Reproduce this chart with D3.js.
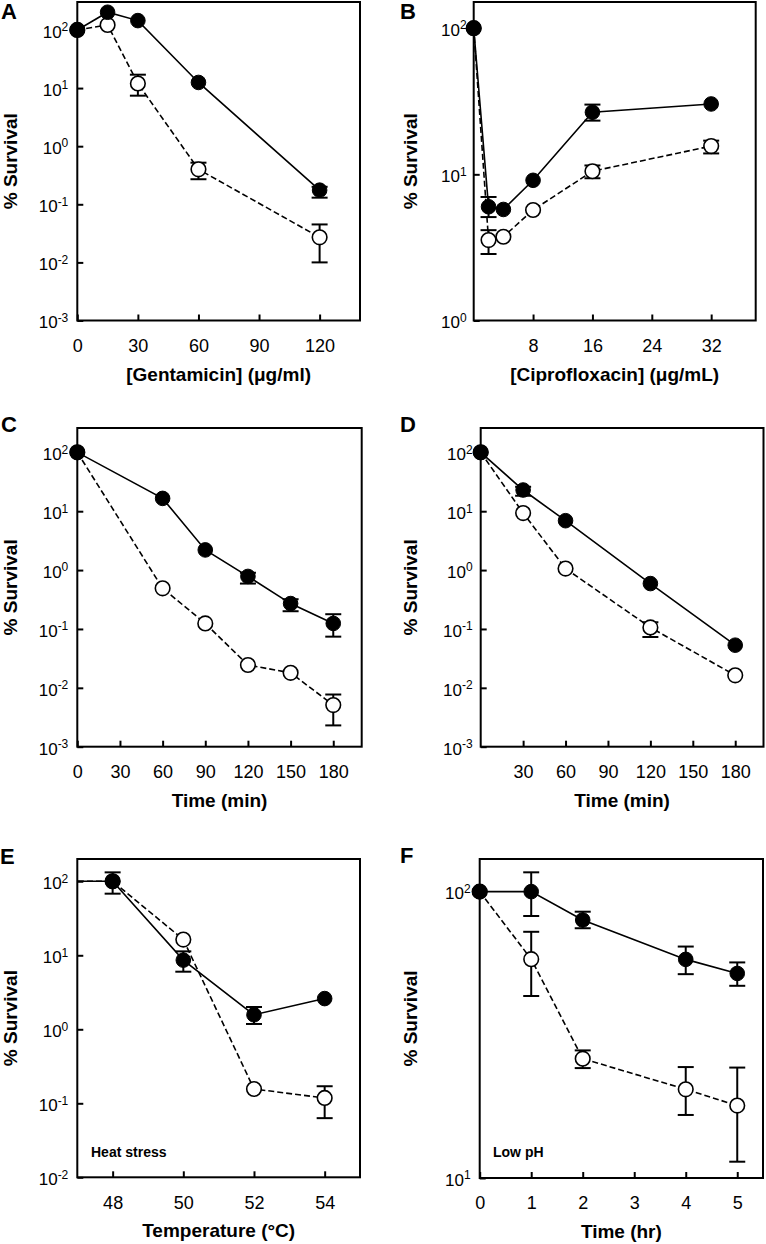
<!DOCTYPE html>
<html><head><meta charset="utf-8">
<script src="https://cdn.jsdelivr.net/npm/d3@7"></script>
<style>
body{margin:0;background:#fff}
svg{display:block}
text{font-family:"Liberation Sans",Arial,Helvetica,sans-serif;fill:#000}
</style>
</head><body><svg id="chart" width="766" height="1244"></svg>
<script>
// ---------- Panel A: gentamicin ----------
const gentX = [0, 15, 30, 60, 120];
const gentFilled = [100, 202, 145, 12.5, 0.175];
const gentFilledLo = [null, null, null, null, 0.13];
const gentFilledHi = [null, null, null, null, 0.2];
const gentOpen = [100, 122, 12, 0.4, 0.027];
const gentOpenLo = [null, null, 7.4, 0.27, 0.01];
const gentOpenHi = [null, null, 17, 0.52, 0.045];
const gentXTicks = [0, 30, 60, 90, 120];
const gentYTicks = [1e-3, 1e-2, 1e-1, 1, 10, 100];

// ---------- Panel B: ciprofloxacin ----------
const ciproX = [0, 2, 4, 8, 16, 32];
const ciproFilled = [100, 6.0, 5.75, 9.1, 26.6, 30.3];
const ciproFilledLo = [null, 5.1, null, null, 23.3, null];
const ciproFilledHi = [null, 7.0, null, null, 30, null];
const ciproOpen = [100, 3.55, 3.74, 5.7, 10.5, 15.6];
const ciproOpenLo = [null, 2.85, null, null, 9.4, 13.9];
const ciproOpenHi = [null, 4.15, null, null, 11.5, 17];
const ciproXTicks = [8, 16, 24, 32];
const ciproYTicks = [1, 10, 100];

// ---------- Panel C: time (min) ----------
const cTimeX = [0, 60, 90, 120, 150, 180];
const cFilled = [100, 16.5, 2.2, 0.78, 0.27, 0.124];
const cFilledLo = [null, null, null, 0.59, 0.2, 0.074];
const cFilledHi = [null, null, null, 0.9, 0.32, 0.178];
const cOpen = [100, 0.49, 0.124, 0.0244, 0.018, 0.0051];
const cOpenLo = [null, null, null, null, null, 0.0023];
const cOpenHi = [null, null, null, null, null, 0.0077];
const cXTicks = [0, 30, 60, 90, 120, 150, 180];
const cYTicks = [1e-3, 1e-2, 1e-1, 1, 10, 100];

// ---------- Panel D: time (min) ----------
const dTimeX = [0, 30, 60, 120, 180];
const dFilled = [100, 22.9, 6.9, 0.59, 0.053];
const dFilledLo = [null, 18.3, null, null, null];
const dFilledHi = [null, 26, null, null, null];
const dOpen = [100, 9.3, 1.06, 0.106, 0.0163];
const dOpenLo = [null, null, null, 0.073, null];
const dOpenHi = [null, null, null, 0.13, null];
const dXTicks = [30, 60, 90, 120, 150, 180];
const dYTicks = [1e-3, 1e-2, 1e-1, 1, 10, 100];

// ---------- Panel E: heat stress ----------
const heatX = [46, 48, 50, 52, 54];
const heatFilled = [100, 100, 8.6, 1.57, 2.6];
const heatFilledLo = [null, 68, 6.0, 1.18, null];
const heatFilledHi = [null, 132, 11.3, 2.0, null];
const heatOpen = [100, 100, 16.3, 0.156, 0.118];
const heatOpenLo = [null, null, null, null, 0.063];
const heatOpenHi = [null, null, null, null, 0.17];
const heatXTicks = [48, 50, 52, 54];
const heatYTicks = [1e-2, 1e-1, 1, 10, 100];

// ---------- Panel F: low pH ----------
const phX = [0, 1, 2, 4, 5];
const phFilled = [100, 100, 79.6, 58, 51.8];
const phFilledLo = [null, 82.2, 74.5, 51.5, 46.9];
const phFilledHi = [null, 116.8, 85.1, 64.3, 56.6];
const phOpen = [100, 58.1, 26.1, 20.4, 17.9];
const phOpenLo = [null, 43.2, 24.2, 16.6, 11.4];
const phOpenHi = [null, 72.4, 27.9, 24.4, 24.3];
const phXTicks = [0, 1, 2, 3, 4, 5];
const phYTicks = [10, 100];

const svg = d3.select("#chart");
svg.append("rect").attr("width", 766).attr("height", 1244).attr("fill", "#fff");

function mk(xs, ys, lo, hi) {
  return xs.map((x, i) => ({x, y: ys[i], lo: lo[i], hi: hi[i]}));
}

const panels = [
  {id: "A", letter: [1, 18.5], box: [77.3, 360, 2, 320.5], xDom: [0, 140], yDom: [1e-3, 303],
   filled: mk(gentX, gentFilled, gentFilledLo, gentFilledHi), open: mk(gentX, gentOpen, gentOpenLo, gentOpenHi),
   xTicks: gentXTicks, yTicks: gentYTicks, yPad: 9, yTitleX: 16.5, xTitle: "[Gentamicin] (\u03bcg/ml)"},
  {id: "B", letter: [400, 18.5], box: [473.7, 755.7, 2, 320.5], xDom: [0, 38], yDom: [1, 151],
   filled: mk(ciproX, ciproFilled, ciproFilledLo, ciproFilledHi), open: mk(ciproX, ciproOpen, ciproOpenLo, ciproOpenHi),
   xTicks: ciproXTicks, yTicks: ciproYTicks, yPad: 7, yTitleX: 417, xTitle: "[Ciprofloxacin] (\u03bcg/mL)"},
  {id: "C", letter: [1, 432], box: [77.3, 361.7, 428, 746.7], xDom: [0, 200], yDom: [1e-3, 259],
   filled: mk(cTimeX, cFilled, cFilledLo, cFilledHi), open: mk(cTimeX, cOpen, cOpenLo, cOpenHi),
   xTicks: cXTicks, yTicks: cYTicks, yPad: 9, yTitleX: 16.5, xTitle: "Time (min)"},
  {id: "D", letter: [400, 432], box: [480.7, 763.5, 428, 746.7], xDom: [0, 200], yDom: [1e-3, 259],
   filled: mk(dTimeX, dFilled, dFilledLo, dFilledHi), open: mk(dTimeX, dOpen, dOpenLo, dOpenHi),
   xTicks: dXTicks, yTicks: dYTicks, yPad: 8, yTitleX: 417, xTitle: "Time (min)"},
  {id: "E", letter: [0, 864], box: [77.3, 360, 859, 1177.3], xDom: [47, 55], yDom: [1e-2, 200],
   filled: mk(heatX, heatFilled, heatFilledLo, heatFilledHi), open: mk(heatX, heatOpen, heatOpenLo, heatOpenHi),
   xTicks: heatXTicks, yTicks: heatYTicks, yPad: 9, yTitleX: 16.5, xTitle: "Temperature (\u00b0C)",
   note: "Heat stress", noteX: 91},
  {id: "F", letter: [400, 863], box: [479.7, 763, 859, 1178], xDom: [0, 5.5], yDom: [10, 130],
   filled: mk(phX, phFilled, phFilledLo, phFilledHi), open: mk(phX, phOpen, phOpenLo, phOpenHi),
   xTicks: phXTicks, yTicks: phYTicks, yPad: 9, yTitleX: 417, xTitle: "Time (hr)",
   note: "Low pH", noteX: 493}
];

panels.forEach(p => {
  const [L, R, T, B] = p.box;
  const x = d3.scaleLinear().domain(p.xDom).range([L, R]);
  const y = d3.scaleLog().domain(p.yDom).range([B, T]);
  const g = svg.append("g");
  const clipId = "clip" + p.id;
  svg.append("clipPath").attr("id", clipId).append("rect")
    .attr("x", L).attr("y", T).attr("width", R - L).attr("height", B - T);

  // x axis ticks + labels
  const xa = g.append("g").attr("transform", `translate(0,${B})`)
    .call(d3.axisBottom(x).tickValues(p.xTicks).tickSize(-6).tickPadding(18.5)
      .tickSizeOuter(0).tickFormat(d => String(d)));
  xa.select(".domain").remove();
  xa.selectAll(".tick line").attr("stroke", "#000").attr("stroke-width", 2);
  xa.selectAll(".tick text").attr("font-size", 18).attr("fill", "#000");

  // y axis ticks + labels with superscripts
  const ya = g.append("g").attr("transform", `translate(${L},0)`)
    .call(d3.axisLeft(y).tickValues(p.yTicks).tickSize(-6).tickPadding(p.yPad).tickSizeOuter(0).tickFormat(() => ""));
  ya.select(".domain").remove();
  ya.selectAll(".tick line").attr("stroke", "#000").attr("stroke-width", 2);
  ya.selectAll(".tick text").attr("font-size", 17).attr("fill", "#000").attr("dy", "0.43em")
    .each(function(d) {
      const t = d3.select(this);
      t.text(null);
      t.append("tspan").text("10");
      t.append("tspan").attr("dy", -6.5).attr("font-size", 12).text(String(Math.round(Math.log10(d))));
    });

  // frame
  g.append("rect").attr("x", L).attr("y", T).attr("width", R - L).attr("height", B - T)
    .attr("fill", "none").attr("stroke", "#000").attr("stroke-width", 2);

  const line = d3.line().x(d => x(d.x)).y(d => y(d.y));
  const inDom = d => d.x >= p.xDom[0] && d.x <= p.xDom[1];

  function drawSeries(data, filled) {
    const sg = g.append("g");
    sg.append("path").datum(data).attr("d", line).attr("fill", "none")
      .attr("stroke", "#000").attr("stroke-width", 1.6)
      .attr("stroke-dasharray", filled ? null : "6,3")
      .attr("clip-path", `url(#${clipId})`);
    const eb = data.filter(d => d.lo != null && inDom(d));
    sg.selectAll("line.v").data(eb).enter().append("line")
      .attr("x1", d => x(d.x)).attr("x2", d => x(d.x))
      .attr("y1", d => y(d.lo)).attr("y2", d => y(d.hi))
      .attr("stroke", "#000").attr("stroke-width", 2);
    ["lo", "hi"].forEach(k => {
      sg.selectAll("line.c" + k).data(eb).enter().append("line")
        .attr("x1", d => x(d.x) - 8).attr("x2", d => x(d.x) + 8)
        .attr("y1", d => y(d[k])).attr("y2", d => y(d[k]))
        .attr("stroke", "#000").attr("stroke-width", 2);
    });
    sg.selectAll("circle").data(data.filter(inDom)).enter().append("circle")
      .attr("cx", d => x(d.x)).attr("cy", d => y(d.y)).attr("r", 7.3)
      .attr("fill", filled ? "#000" : "#fff")
      .attr("stroke", "#000").attr("stroke-width", filled ? 1 : 1.6);
  }
  drawSeries(p.open, false);
  drawSeries(p.filled, true);

  // titles
  svg.append("text").attr("x", (L + R) / 2).attr("y", B + 60).attr("text-anchor", "middle")
    .attr("font-size", 19).attr("font-weight", "bold").text(p.xTitle);
  svg.append("text").attr("transform", `translate(${p.yTitleX},${(T + B) / 2}) rotate(-90)`)
    .attr("text-anchor", "middle").attr("font-size", 19).attr("font-weight", "bold").text("% Survival");
  svg.append("text").attr("x", p.letter[0]).attr("y", p.letter[1])
    .attr("font-size", 22).attr("font-weight", "bold").text(p.id);
  if (p.note) {
    svg.append("text").attr("x", p.noteX).attr("y", 1156.5)
      .attr("font-size", 14).attr("font-weight", "bold").text(p.note);
  }
});
</script>
</body></html>
